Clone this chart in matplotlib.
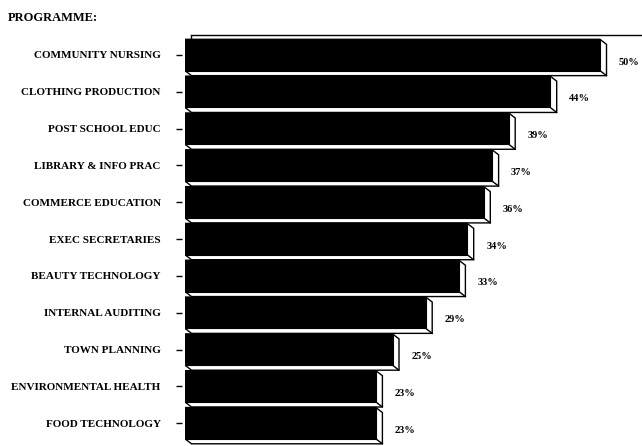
import matplotlib.pyplot as plt
from matplotlib.patches import Polygon

programmes = [
    "COMMUNITY NURSING",
    "CLOTHING PRODUCTION",
    "POST SCHOOL EDUC",
    "LIBRARY & INFO PRAC",
    "COMMERCE EDUCATION",
    "EXEC SECRETARIES",
    "BEAUTY TECHNOLOGY",
    "INTERNAL AUDITING",
    "TOWN PLANNING",
    "ENVIRONMENTAL HEALTH",
    "FOOD TECHNOLOGY",
]
shares = [50, 44, 39, 37, 36, 34, 33, 29, 25, 23, 23]

W, H = 642, 446
FONT = "Liberation Serif"

fig = plt.figure(figsize=(W / 100, H / 100), dpi=100)
# axes spans from the bar origin to the right edge, top frame line down to the bottom
ax = fig.add_axes([185 / W, 0, 1 - 185 / W, (H - 35) / H])
xmax = (W - 185) / 8.3
ymin, ymax = 10.62, -0.543
ax.set_xlim(0, xmax)
ax.set_ylim(ymin, ymax)

# size of one pixel in data units, for the extrusion depth
px_x = xmax / (W - 185)
px_y = (ymin - ymax) / (H - 35)
dx, dy = 6.5 * px_x, 5 * px_y

bars = ax.barh(range(len(shares)), shares, height=0.85, color="black",
               edgecolor="black", linewidth=0.8, zorder=3)

for bar, val in zip(bars, shares):
    x0, y0 = bar.get_x(), bar.get_y()
    x1, y1 = x0 + bar.get_width(), y0 + bar.get_height()
    # white side and bottom faces behind the black front
    hull = Polygon([(x0, y0), (x1, y0), (x1 + dx, y0 + dy), (x1 + dx, y1 + dy),
                    (x0 + dx, y1 + dy), (x0, y1)],
                   closed=True, facecolor="white", edgecolor="black",
                   linewidth=1.0, zorder=2)
    ax.add_patch(hull)
    ax.plot([x1, x1 + dx], [y1, y1 + dy], color="black", lw=1.0, zorder=4)
    ax.annotate(f"{val}%", xy=(x1 + dx, (y0 + y1) / 2 + dy),
                xytext=(9, -1.5), textcoords="offset points",
                ha="left", va="center", fontsize=7.5, fontweight="bold",
                family=FONT)

# back wall edge of the frame
first = bars[0]
ax.plot([dx, dx], [ymax, first.get_y() + dy], color="black", lw=1.0, zorder=1)

for side in ["left", "right", "bottom"]:
    ax.spines[side].set_visible(False)
ax.spines["top"].set_bounds(dx, xmax)
ax.spines["top"].set_linewidth(1.0)
ax.spines["left"].set_position(("outward", 2))

ax.set_xticks([])
ax.set_yticks(range(len(programmes)))
ax.set_yticklabels(programmes, fontsize=8, fontweight="bold", family=FONT)
ax.tick_params(axis="y", length=4.5, width=1.0, pad=11)

fig.text(8 / W, 1 - 18 / H, "PROGRAMME:", ha="left", va="center",
         fontsize=9, fontweight="bold", family=FONT)

fig.savefig("out.png", dpi=100)
